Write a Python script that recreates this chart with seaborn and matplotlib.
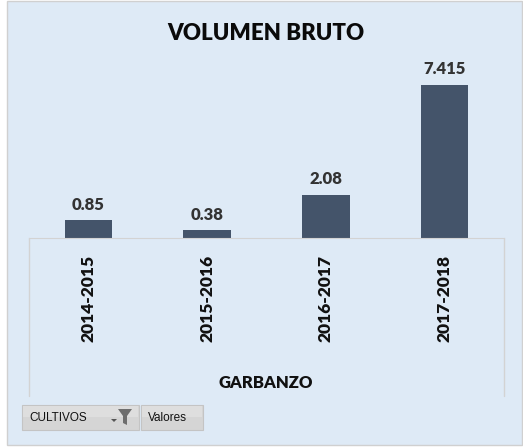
import numpy as np
import pandas as pd
import matplotlib
matplotlib.use("Agg")
import matplotlib.pyplot as plt
from matplotlib.patches import Rectangle, Polygon
from matplotlib.lines import Line2D
import seaborn as sns

campanas = ["2014-2015", "2015-2016", "2016-2017", "2017-2018"]
volumen = [0.85, 0.38, 2.08, 7.415]
etiquetas = ["0.85", "0.38", "2.08", "7.415"]
titulo = "VOLUMEN BRUTO"
cultivo = "GARBANZO"

W, H = 523, 447
bg = "#DEEAF6"
bar_color = "#44546A"
sns.set_style("white")
plt.rcParams['font.family'] = ['Lato', 'DejaVu Sans']


def fx(x):
    return x / W


def fy(y):
    return 1 - y / H


fig = plt.figure(figsize=(W / 100, H / 100), dpi=100)
fig.patch.set_facecolor("white")
fig.patches.append(Rectangle((fx(7), fy(445)), fx(515), 444 / H, transform=fig.transFigure,
                             facecolor=bg, edgecolor="#D0D0D0", lw=1, zorder=-5))

# plot area: baseline at y=238 px, 20.63 px per unit
ax_top, ax_bot = 50, 238
ax = fig.add_axes([fx(29), fy(ax_bot), fx(504 - 29), (ax_bot - ax_top) / H])
ax.set_zorder(2)
ax.patch.set_visible(False)
df = pd.DataFrame({"campana": campanas, "volumen": volumen})
sns.barplot(data=df, x="campana", y="volumen", color=bar_color, width=0.4, ax=ax,
            saturation=1, edgecolor="none")
ax.set_ylim(0, (ax_bot - ax_top) / (153 / 7.415))
ax.set_xlim(-0.5, 3.5)
for i, t in enumerate(etiquetas):
    ax.annotate(t, (i, volumen[i]), xytext=(0, 5.5), textcoords="offset points",
                ha="center", va="bottom", fontsize=12, fontweight="heavy", color="#333333")
for s in ["top", "left", "right"]:
    ax.spines[s].set_visible(False)
ax.spines["bottom"].set_color("#D3D3D3")
ax.set_yticks([])
ax.tick_params(axis="x", length=0, pad=12)
ax.set_xticks(range(len(campanas)))
ax.set_xticklabels(campanas, rotation=90, fontsize=12.5, fontweight="heavy", color="#111111")
ax.set_xlabel("")
ax.set_ylabel("")

# category box lines
for x in (29, 504):
    fig.add_artist(Line2D([fx(x), fx(x)], [fy(ax_bot), fy(396)], color="#D3D3D3", lw=1))

fig.text(fx(266), fy(33), titulo, ha="center", va="center", fontsize=16, fontweight="heavy",
         color="#0a0a0a")
fig.text(fx(266), fy(383), cultivo, ha="center", va="center", fontsize=12, fontweight="heavy",
         color="#111111")

# field buttons
for x0, x1 in [(22, 139), (141, 203)]:
    fig.patches.append(Rectangle((fx(x0), fy(430)), fx(x1 - x0), 25 / H, transform=fig.transFigure,
                                 facecolor="#D5D5D5", edgecolor="#C4C4C4", lw=0.8))
    fig.patches.append(Rectangle((fx(x0 + 1), fy(417)), fx(x1 - x0 - 2), 11 / H, transform=fig.transFigure,
                                 facecolor="#DEDEDE", edgecolor="none"))
fig.text(fx(29), fy(418), "CULTIVOS", ha="left", va="center", fontsize=8.5, color="#111111",
         family=["Liberation Sans"])
fig.text(fx(148), fy(418), "Valores", ha="left", va="center", fontsize=8.5, color="#111111",
         family=["Liberation Sans"])
fig.patches.append(Polygon([(fx(118), fy(409)), (fx(132), fy(409)), (fx(127), fy(416)),
                            (fx(127), fy(425)), (fx(123), fy(423)), (fx(123), fy(416))],
                           closed=True, transform=fig.transFigure, facecolor="#6E6E6E", edgecolor="none"))
fig.patches.append(Polygon([(fx(111), fy(419)), (fx(117), fy(419)), (fx(114), fy(422))],
                           closed=True, transform=fig.transFigure, facecolor="#555555", edgecolor="none"))

fig.savefig("out.png", dpi=100, facecolor=fig.get_facecolor())
